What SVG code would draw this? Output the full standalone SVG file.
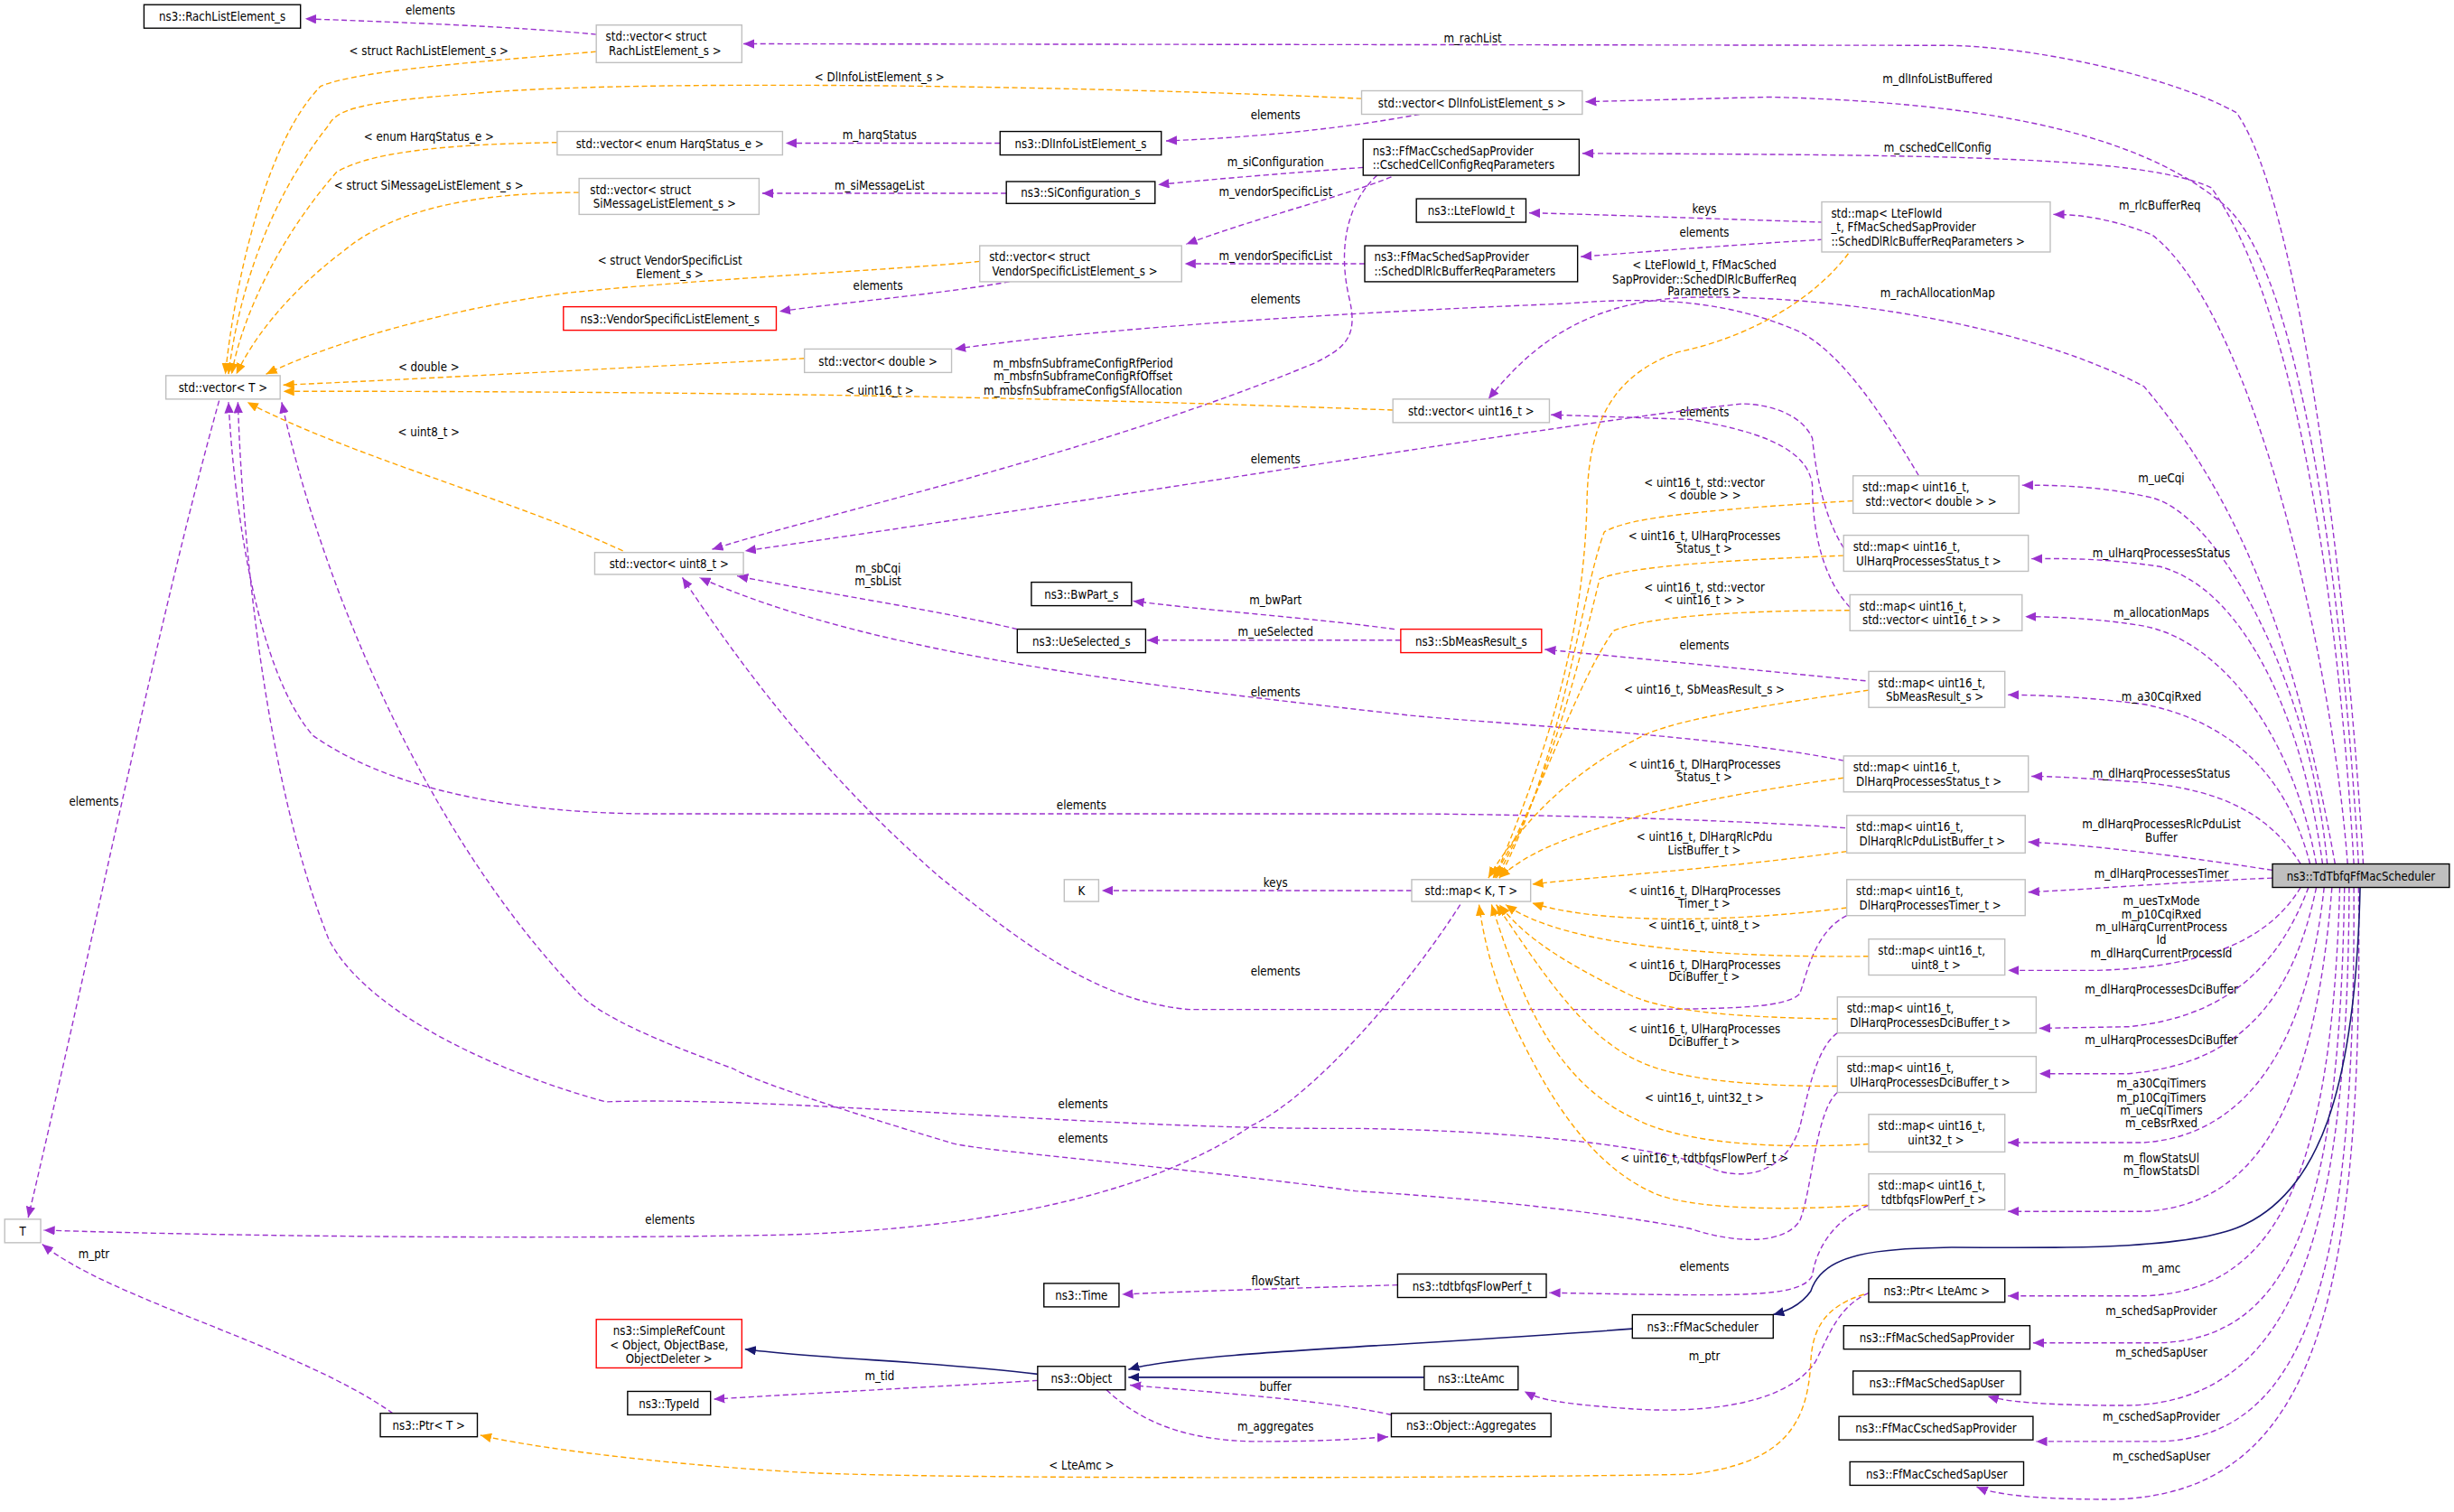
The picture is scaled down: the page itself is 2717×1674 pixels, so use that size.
<svg xmlns="http://www.w3.org/2000/svg" width="2717" height="1674" viewBox="0 0 2717 1674">
<style>
text{font-family:"DejaVu Sans Condensed","DejaVu Sans",sans-serif;font-stretch:condensed;font-size:7.6px;fill:#000}
.m{text-anchor:middle}
rect{fill:#fff;stroke-width:0.8}
.g{stroke:#bfbfbf}
.b{stroke:#000}
.r{stroke:#ff0000}
.s{fill:#bfbfbf;stroke:#000}
path{fill:none}
.p{stroke:#9a32cd;stroke-width:0.8;stroke-dasharray:3.5,2;marker-end:url(#ap)}
.o{stroke:#ffa500;stroke-width:0.8;stroke-dasharray:3.5,2;marker-end:url(#ao)}
.i{stroke:#191970;stroke-width:0.9;marker-end:url(#ai)}
</style>
<defs>
<marker id="ap" markerUnits="userSpaceOnUse" markerWidth="8" markerHeight="6" refX="7" refY="3" orient="auto"><path d="M0,0L7,3L0,6z" style="fill:#9a32cd;stroke:none"/></marker>
<marker id="ao" markerUnits="userSpaceOnUse" markerWidth="8" markerHeight="6" refX="7" refY="3" orient="auto"><path d="M0,0L7,3L0,6z" style="fill:#ffa500;stroke:none"/></marker>
<marker id="ai" markerUnits="userSpaceOnUse" markerWidth="8" markerHeight="6" refX="7" refY="3" orient="auto"><path d="M0,0L7,3L0,6z" style="fill:#191970;stroke:none"/></marker>
</defs>
<rect x="0" y="0" width="2717" height="1674" style="fill:#fff;stroke:none"/>
<g transform="scale(1.7328)">
<g id="edges">
<!-- from scheduler, upper -->
<path class="p" d="M1510,552 C1500,380 1470,130 1429,72 C1390,50 1300,29 1241,29 L475,28"/>
<text class="m" x="941" y="27">m_rachList</text>
<path class="p" d="M1507,552 C1497,380 1470,170 1420,130 C1360,80 1250,65 1130,62 L1013,65"/>
<text class="m" x="1238" y="53">m_dlInfoListBuffered</text>
<path class="p" d="M1504,552 C1495,400 1470,200 1413,120 C1370,100 1250,99 1011,98"/>
<text class="m" x="1238" y="97">m_cschedCellConfig</text>
<path class="p" d="M1500,552 C1490,420 1440,200 1375,150 C1350,140 1330,137 1312,137"/>
<text class="m" x="1380" y="134">m_rlcBufferReq</text>
<path class="p" d="M1492,552 C1470,430 1440,330 1370,247 C1300,210 1180,188 1080,190 C1010,192 975,225 951,255"/>
<text class="m" x="1238" y="190">m_rachAllocationMap</text>
<path class="p" d="M1487,552 C1477,440 1420,330 1375,318 C1340,310 1310,310 1292,310"/>
<text class="m" x="1381" y="308">m_ueCqi</text>
<path class="p" d="M1484,552 C1470,450 1430,375 1380,362 C1340,356 1315,357 1298,357"/>
<text class="m" x="1381" y="356">m_ulHarqProcessesStatus</text>
<path class="p" d="M1480,552 C1465,470 1420,410 1370,400 C1340,395 1310,394 1294,394"/>
<text class="m" x="1381" y="394">m_allocationMaps</text>
<path class="p" d="M1476,552 C1460,490 1420,460 1370,450 C1330,445 1300,444 1283,444"/>
<text class="m" x="1381" y="448">m_a30CqiRxed</text>
<path class="p" d="M1470,552 C1450,520 1420,505 1370,500 C1330,497 1310,496 1298,496"/>
<text class="m" x="1381" y="497">m_dlHarqProcessesStatus</text>
<path class="p" d="M1452,556 C1400,548 1340,540 1296,538"/>
<text class="m" x="1381" y="529">m_dlHarqProcessesRlcPduList</text>
<text class="m" x="1381" y="538">Buffer</text>
<path class="p" d="M1452,561 C1400,563 1340,568 1296,570"/>
<text class="m" x="1381" y="561">m_dlHarqProcessesTimer</text>
<!-- from scheduler, lower -->
<path class="p" d="M1470,567 C1450,600 1410,618 1340,620 L1283,620"/>
<text class="m" x="1381" y="578">m_uesTxMode</text>
<text class="m" x="1381" y="587">m_p10CqiRxed</text>
<text class="m" x="1381" y="595">m_ulHarqCurrentProcess</text>
<text class="m" x="1381" y="603">Id</text>
<text class="m" x="1381" y="612">m_dlHarqCurrentProcessId</text>
<path class="p" d="M1475,567 C1455,620 1420,650 1360,656 L1303,657"/>
<text class="m" x="1381" y="635">m_dlHarqProcessesDciBuffer</text>
<path class="p" d="M1480,567 C1465,640 1430,680 1360,686 L1303,686"/>
<text class="m" x="1381" y="667">m_ulHarqProcessesDciBuffer</text>
<path class="p" d="M1485,567 C1475,660 1440,725 1370,730 L1283,730"/>
<text class="m" x="1381" y="695">m_a30CqiTimers</text>
<text class="m" x="1381" y="704">m_p10CqiTimers</text>
<text class="m" x="1381" y="712">m_ueCqiTimers</text>
<text class="m" x="1381" y="720">m_ceBsrRxed</text>
<path class="p" d="M1490,567 C1480,690 1450,770 1370,774 L1283,774"/>
<text class="m" x="1381" y="743">m_flowStatsUl</text>
<text class="m" x="1381" y="751">m_flowStatsDl</text>
<path class="p" d="M1495,567 C1490,740 1460,825 1370,828 L1283,828"/>
<text class="m" x="1381" y="813">m_amc</text>
<path class="p" d="M1498,567 C1495,760 1470,855 1380,858 L1299,858"/>
<text class="m" x="1381" y="840">m_schedSapProvider</text>
<path class="p" d="M1501,567 C1500,780 1470,895 1360,898 C1300,898 1280,895 1270,892"/>
<text class="m" x="1381" y="867">m_schedSapUser</text>
<path class="p" d="M1504,567 C1505,800 1480,918 1380,921 L1301,921"/>
<text class="m" x="1381" y="908">m_cschedSapProvider</text>
<path class="p" d="M1507,567 C1510,830 1480,955 1350,958 C1300,958 1275,955 1263,950"/>
<text class="m" x="1381" y="933">m_cschedSapUser</text>
<!-- inheritance -->
<path class="i" d="M1508,567 C1505,700 1480,760 1435,782 C1400,800 1300,797 1247,797 C1200,798 1165,800 1157,825 C1150,835 1140,838 1133,840"/>
<path class="i" d="M1043,849 C900,860 760,864 721,875"/>
<path class="i" d="M910,880 L721,880"/>
<path class="i" d="M663,878 C600,870 520,868 476,862"/>
<!-- other members -->
<path class="p" d="M381,22 C330,17 250,14 195,12"/>
<text class="m" x="275" y="9">elements</text>
<path class="p" d="M907,73 C860,82 800,88 745,90"/>
<text class="m" x="815" y="76">elements</text>
<path class="p" d="M639,91.5 L502,91.5"/>
<text class="m" x="562" y="89">m_harqStatus</text>
<path class="p" d="M871,107 C830,110 780,114 740,118"/>
<text class="m" x="815" y="106">m_siConfiguration</text>
<path class="p" d="M643,123.5 L487,123.5"/>
<text class="m" x="562" y="121">m_siMessageList</text>
<path class="p" d="M889,113 C860,125 800,140 758,156"/>
<text class="m" x="815" y="125">m_vendorSpecificList</text>
<path class="p" d="M872,168.5 L757,168.5"/>
<text class="m" x="815" y="166">m_vendorSpecificList</text>
<path class="p" d="M645,180 C600,188 540,193 498,199"/>
<text class="m" x="561" y="185">elements</text>
<path class="p" d="M880,112 C860,130 855,160 862,190 C868,215 860,222 840,232 C700,290 520,330 455,351"/>
<text class="m" x="692" y="235">m_mbsfnSubframeConfigRfPeriod</text>
<text class="m" x="692" y="243">m_mbsfnSubframeConfigRfOffset</text>
<text class="m" x="692" y="252">m_mbsfnSubframeConfigSfAllocation</text>
<path class="p" d="M1165,142 C1100,140 1020,137 977,136"/>
<text class="m" x="1089" y="136">keys</text>
<path class="p" d="M1165,153 C1100,157 1050,161 1010,164"/>
<text class="m" x="1089" y="151">elements</text>
<path class="p" d="M1226,304 C1200,260 1175,225 1150,212 C1100,190 1050,190 1000,194 C850,200 700,210 610,223"/>
<text class="m" x="815" y="194">elements</text>
<path class="p" d="M1182,388 C1165,370 1158,340 1158,310 C1155,285 1120,275 1080,268 L991,265"/>
<text class="m" x="1089" y="266">elements</text>
<path class="p" d="M1178,350 C1165,330 1160,300 1158,280 C1150,262 1125,258 1113,258 C1000,270 700,320 476,352"/>
<text class="m" x="815" y="296">elements</text>
<path class="p" d="M1178,486 C1100,470 950,462 900,457 C750,440 560,420 447,369"/>
<text class="m" x="815" y="445">elements</text>
<path class="p" d="M895,409 L733,409"/>
<text class="m" x="815" y="406">m_ueSelected</text>
<path class="p" d="M891,402 C840,395 770,390 724,384"/>
<text class="m" x="815" y="386">m_bwPart</text>
<path class="p" d="M650,402 C600,390 520,378 471,368"/>
<text class="m" x="561" y="366">m_sbCqi</text>
<text class="m" x="561" y="374">m_sbList</text>
<path class="p" d="M1192,435 C1120,428 1040,420 987,415"/>
<text class="m" x="1089" y="415">elements</text>
<path class="p" d="M1179,529 C1100,523 950,520 900,520 L420,520 C330,520 250,505 200,470 C165,430 150,330 146,257"/>
<text class="m" x="691" y="517">elements</text>
<path class="p" d="M140,256 C100,400 60,600 18,778"/>
<text class="m" x="60" y="515">elements</text>
<path class="p" d="M902,569 L704,569"/>
<text class="m" x="815" y="567">keys</text>
<path class="p" d="M933,578 C900,630 840,700 800,719 C740,760 640,785 500,789 C350,792 150,790 28,786"/>
<text class="m" x="428" y="782">elements</text>
<path class="p" d="M1180,585 C1160,595 1155,620 1150,635 C1140,645 1100,645 1000,645 L760,645 C700,640 650,600 600,560 C520,490 470,420 436,369"/>
<text class="m" x="815" y="623">elements</text>
<path class="p" d="M1174,660 C1160,670 1155,700 1150,720 C1140,752 1110,755 1090,745 C1050,730 950,722 866,721 C700,722 500,700 387,704 C300,680 230,640 210,600 C170,500 155,350 152,257"/>
<text class="m" x="692" y="708">elements</text>
<path class="p" d="M1174,698 C1160,710 1158,760 1150,780 C1140,795 1110,795 1080,785 C1000,770 900,763 866,761 C750,745 620,735 607,730 C540,710 480,690 469,683 C420,665 385,650 370,635 C260,520 200,350 180,257"/>
<text class="m" x="692" y="730">elements</text>
<path class="p" d="M1194,770 C1170,780 1160,800 1158,815 C1150,830 1110,828 990,826"/>
<text class="m" x="1089" y="812">elements</text>
<path class="p" d="M893,821 C830,823 760,825 717,827"/>
<text class="m" x="815" y="821">flowStart</text>
<path class="p" d="M1194,826 C1175,835 1170,850 1160,870 C1140,900 1080,903 1040,900 C1000,897 985,895 974,889"/>
<text class="m" x="1089" y="869">m_ptr</text>
<path class="p" d="M663,882 C600,886 520,890 456,894"/>
<text class="m" x="562" y="882">m_tid</text>
<path class="p" d="M707,888 C730,910 760,920 800,921 C840,921 860,920 887,918"/>
<text class="m" x="815" y="914">m_aggregates</text>
<path class="p" d="M889,904 C850,895 780,890 722,885"/>
<text class="m" x="815" y="889">buffer</text>
<path class="p" d="M251,903 C190,860 70,830 27,795"/>
<text class="m" x="60" y="804">m_ptr</text>
<!-- templates -->
<path class="o" d="M381,33 C300,40 230,45 205,55 C170,90 150,180 144,239"/>
<text class="m" x="274" y="35">&lt; struct RachListElement_s &gt;</text>
<path class="o" d="M870,63 C700,55 400,50 300,60 C230,65 215,70 210,80 C170,130 152,190 146,239"/>
<text class="m" x="562" y="52">&lt; DlInfoListElement_s &gt;</text>
<path class="o" d="M356,91 C300,92 240,95 215,110 C180,150 155,200 148,239"/>
<text class="m" x="274" y="90">&lt; enum HarqStatus_e &gt;</text>
<path class="o" d="M370,123 C300,123 250,135 220,160 C180,190 160,220 151,239"/>
<text class="m" x="274" y="121">&lt; struct SiMessageListElement_s &gt;</text>
<path class="o" d="M626,167 C580,172 450,178 364,187 C300,195 220,215 170,239"/>
<text class="m" x="428" y="169">&lt; struct VendorSpecificList</text>
<text class="m" x="428" y="178">Element_s &gt;</text>
<path class="o" d="M514,229 C400,235 250,243 181,246"/>
<text class="m" x="274" y="237">&lt; double &gt;</text>
<path class="o" d="M890,262 C700,255 500,250 181,250"/>
<text class="m" x="562" y="252">&lt; uint16_t &gt;</text>
<path class="o" d="M398,352 C330,320 220,290 158,257"/>
<text class="m" x="274" y="279">&lt; uint8_t &gt;</text>
<path class="o" d="M1181,162 C1160,190 1120,215 1072,225 C1030,240 1015,270 1014,320 C1012,420 980,500 955,561"/>
<text class="m" x="1089" y="172">&lt; LteFlowId_t, FfMacSched</text>
<text class="m" x="1089" y="181">SapProvider::SchedDlRlcBufferReq</text>
<text class="m" x="1089" y="189">Parameters &gt;</text>
<path class="o" d="M1184,320 C1100,325 1040,330 1025,340 C1010,380 1000,480 958,561"/>
<text class="m" x="1089" y="311">&lt; uint16_t, std::vector</text>
<text class="m" x="1089" y="319">&lt; double &gt; &gt;</text>
<path class="o" d="M1178,355 C1100,358 1040,362 1022,370 C1010,420 990,500 956,561"/>
<text class="m" x="1089" y="345">&lt; uint16_t, UlHarqProcesses</text>
<text class="m" x="1089" y="353">Status_t &gt;</text>
<path class="o" d="M1182,390 C1100,390 1050,395 1031,403 C1005,440 985,510 954,561"/>
<text class="m" x="1089" y="378">&lt; uint16_t, std::vector</text>
<text class="m" x="1089" y="386">&lt; uint16_t &gt; &gt;</text>
<path class="o" d="M1194,441 C1130,450 1070,460 1050,470 C1010,490 975,520 951,561"/>
<text class="m" x="1089" y="443">&lt; uint16_t, SbMeasResult_s &gt;</text>
<path class="o" d="M1178,497 C1120,505 1070,515 1045,522 C1000,535 975,545 958,561"/>
<text class="m" x="1089" y="491">&lt; uint16_t, DlHarqProcesses</text>
<text class="m" x="1089" y="499">Status_t &gt;</text>
<path class="o" d="M1180,544 C1100,555 1020,560 979,565"/>
<text class="m" x="1089" y="537">&lt; uint16_t, DlHarqRlcPdu</text>
<text class="m" x="1089" y="546">ListBuffer_t &gt;</text>
<path class="o" d="M1180,580 C1100,590 1020,590 979,577"/>
<text class="m" x="1089" y="572">&lt; uint16_t, DlHarqProcesses</text>
<text class="m" x="1089" y="580">Timer_t &gt;</text>
<path class="o" d="M1194,611 C1100,612 1000,605 962,578"/>
<text class="m" x="1089" y="594">&lt; uint16_t, uint8_t &gt;</text>
<path class="o" d="M1174,651 C1100,650 1060,645 1040,635 C1000,615 975,600 958,578"/>
<text class="m" x="1089" y="619">&lt; uint16_t, DlHarqProcesses</text>
<text class="m" x="1089" y="627">DciBuffer_t &gt;</text>
<path class="o" d="M1174,694 C1120,694 1070,690 1045,677 C1010,660 985,620 956,578"/>
<text class="m" x="1089" y="660">&lt; uint16_t, UlHarqProcesses</text>
<text class="m" x="1089" y="668">DciBuffer_t &gt;</text>
<path class="o" d="M1194,731 C1120,735 1070,728 1045,715 C990,690 970,630 953,578"/>
<text class="m" x="1089" y="704">&lt; uint16_t, uint32_t &gt;</text>
<path class="o" d="M1193,770 C1120,775 1070,770 1054,761 C1010,740 985,690 970,660 C955,630 948,600 945,578"/>
<text class="m" x="1089" y="743">&lt; uint16_t, tdtbfqsFlowPerf_t &gt;</text>
<path class="o" d="M1191,827 C1165,835 1158,850 1157,870 C1155,910 1140,935 1080,942 C900,945 560,945 500,940 C420,935 340,925 307,917"/>
<text class="m" x="691" y="939">&lt; LteAmc &gt;</text>
</g>
<g id="rach"><rect class="b" x="92" y="3" width="100" height="15"/><text class="m" x="142" y="13.5">ns3::RachListElement_s</text></g>
<g id="vecRach"><rect class="g" x="381" y="16" width="93" height="24"/><text x="387" y="26">std::vector&lt; struct</text><text x="389" y="35">RachListElement_s &gt;</text></g>
<g id="vecDlInfo"><rect class="g" x="870" y="58" width="141" height="15"/><text class="m" x="940.5" y="68.5">std::vector&lt; DlInfoListElement_s &gt;</text></g>
<g id="vecHarq"><rect class="g" x="356" y="84" width="144" height="15"/><text class="m" x="428" y="94.5">std::vector&lt; enum HarqStatus_e &gt;</text></g>
<g id="dlinfo"><rect class="b" x="639" y="84" width="103" height="15"/><text class="m" x="690.5" y="94.5">ns3::DlInfoListElement_s</text></g>
<g id="vecSi"><rect class="g" x="370" y="114" width="115" height="23"/><text x="377" y="124">std::vector&lt; struct</text><text x="379" y="133">SiMessageListElement_s &gt;</text></g>
<g id="siConf"><rect class="b" x="643" y="116" width="95" height="14"/><text class="m" x="690.5" y="126">ns3::SiConfiguration_s</text></g>
<g id="cschedCell"><rect class="b" x="871" y="89" width="138" height="23"/><text x="877" y="99">ns3::FfMacCschedSapProvider</text><text x="877" y="108">::CschedCellConfigReqParameters</text></g>
<g id="lteFlow"><rect class="b" x="905" y="127" width="70" height="15"/><text class="m" x="940" y="137.5">ns3::LteFlowId_t</text></g>
<g id="vecVendor"><rect class="g" x="626" y="157" width="129" height="23"/><text x="632" y="167">std::vector&lt; struct</text><text x="634" y="176">VendorSpecificListElement_s &gt;</text></g>
<g id="schedDlRlc"><rect class="b" x="872" y="157" width="136" height="23"/><text x="878" y="167">ns3::FfMacSchedSapProvider</text><text x="878" y="176">::SchedDlRlcBufferReqParameters</text></g>
<g id="vendorEl"><rect class="r" x="360" y="196" width="136" height="15"/><text class="m" x="428" y="206.5">ns3::VendorSpecificListElement_s</text></g>
<g id="vecDouble"><rect class="g" x="514" y="223" width="94" height="15"/><text class="m" x="561" y="233.5">std::vector&lt; double &gt;</text></g>
<g id="vecT"><rect class="g" x="106" y="240" width="73" height="15"/><text class="m" x="142.5" y="250.5">std::vector&lt; T &gt;</text></g>
<g id="vec16"><rect class="g" x="890" y="255" width="100" height="15"/><text class="m" x="940" y="265.5">std::vector&lt; uint16_t &gt;</text></g>
<g id="mapLteFlow"><rect class="g" x="1164" y="129" width="146" height="32"/><text x="1170" y="139">std::map&lt; LteFlowId</text><text x="1170" y="148">_t, FfMacSchedSapProvider</text><text x="1170" y="157">::SchedDlRlcBufferReqParameters &gt;</text></g>
<g id="mapVecDouble"><rect class="g" x="1184" y="304" width="106" height="24"/><text x="1190" y="314">std::map&lt; uint16_t,</text><text x="1192" y="323">std::vector&lt; double &gt; &gt;</text></g>
<g id="mapUlHarqStatus"><rect class="g" x="1178" y="342" width="118" height="23"/><text x="1184" y="352">std::map&lt; uint16_t,</text><text x="1186" y="361">UlHarqProcessesStatus_t &gt;</text></g>
<g id="mapVecU16"><rect class="g" x="1182" y="380" width="110" height="23"/><text x="1188" y="390">std::map&lt; uint16_t,</text><text x="1190" y="399">std::vector&lt; uint16_t &gt; &gt;</text></g>
<g id="vecU8"><rect class="g" x="380" y="353" width="95" height="14"/><text class="m" x="427.5" y="363">std::vector&lt; uint8_t &gt;</text></g>
<g id="bwPart"><rect class="b" x="659" y="372" width="64" height="15"/><text class="m" x="691" y="382.5">ns3::BwPart_s</text></g>
<g id="ueSel"><rect class="b" x="650" y="402" width="82" height="15"/><text class="m" x="691" y="412.5">ns3::UeSelected_s</text></g>
<g id="sbMeas"><rect class="r" x="895" y="402" width="90" height="15"/><text class="m" x="940" y="412.5">ns3::SbMeasResult_s</text></g>
<g id="mapSbMeas"><rect class="g" x="1194" y="429" width="87" height="23"/><text x="1200" y="439">std::map&lt; uint16_t,</text><text x="1205" y="448">SbMeasResult_s &gt;</text></g>
<g id="mapDlHarqStatus"><rect class="g" x="1178" y="483" width="118" height="23"/><text x="1184" y="493">std::map&lt; uint16_t,</text><text x="1186" y="502">DlHarqProcessesStatus_t &gt;</text></g>
<g id="mapDlRlcPdu"><rect class="g" x="1180" y="521" width="114" height="24"/><text x="1186" y="531">std::map&lt; uint16_t,</text><text x="1188" y="540">DlHarqRlcPduListBuffer_t &gt;</text></g>
<g id="K"><rect class="g" x="680" y="562" width="22" height="14"/><text class="m" x="691" y="572">K</text></g>
<g id="mapKT"><rect class="g" x="902" y="562" width="76" height="14"/><text class="m" x="940" y="572">std::map&lt; K, T &gt;</text></g>
<g id="sched"><rect class="s" x="1452" y="552" width="113" height="15"/><text class="m" x="1508.5" y="562.5">ns3::TdTbfqFfMacScheduler</text></g>
<g id="mapDlHarqTimer"><rect class="g" x="1180" y="562" width="114" height="23"/><text x="1186" y="572">std::map&lt; uint16_t,</text><text x="1188" y="581">DlHarqProcessesTimer_t &gt;</text></g>
<g id="mapU8"><rect class="g" x="1194" y="600" width="87" height="23"/><text x="1200" y="610">std::map&lt; uint16_t,</text><text class="m" x="1237" y="619">uint8_t &gt;</text></g>
<g id="mapDlDci"><rect class="g" x="1174" y="637" width="127" height="23"/><text x="1180" y="647">std::map&lt; uint16_t,</text><text x="1182" y="656">DlHarqProcessesDciBuffer_t &gt;</text></g>
<g id="mapUlDci"><rect class="g" x="1174" y="675" width="127" height="23"/><text x="1180" y="685">std::map&lt; uint16_t,</text><text x="1182" y="694">UlHarqProcessesDciBuffer_t &gt;</text></g>
<g id="mapU32"><rect class="g" x="1194" y="712" width="87" height="24"/><text x="1200" y="722">std::map&lt; uint16_t,</text><text class="m" x="1237" y="731">uint32_t &gt;</text></g>
<g id="mapTdt"><rect class="g" x="1194" y="750" width="87" height="23"/><text x="1200" y="760">std::map&lt; uint16_t,</text><text x="1202" y="769">tdtbfqsFlowPerf_t &gt;</text></g>
<g id="T"><rect class="g" x="3" y="779" width="23" height="15"/><text class="m" x="14.5" y="789.5">T</text></g>
<g id="tdtPerf"><rect class="b" x="893" y="814" width="95" height="15"/><text class="m" x="940.5" y="824.5">ns3::tdtbfqsFlowPerf_t</text></g>
<g id="time"><rect class="b" x="667" y="820" width="48" height="15"/><text class="m" x="691" y="830.5">ns3::Time</text></g>
<g id="ptrLteAmc"><rect class="b" x="1194" y="817" width="87" height="15"/><text class="m" x="1237.5" y="827.5">ns3::Ptr&lt; LteAmc &gt;</text></g>
<g id="ffMacSched"><rect class="b" x="1043" y="840" width="90" height="15"/><text class="m" x="1088" y="850.5">ns3::FfMacScheduler</text></g>
<g id="schedProv"><rect class="b" x="1178" y="847" width="119" height="15"/><text class="m" x="1237.5" y="857.5">ns3::FfMacSchedSapProvider</text></g>
<g id="simpleRef"><rect class="r" x="381" y="843" width="93" height="31"/><text class="m" x="427.5" y="853">ns3::SimpleRefCount</text><text class="m" x="427.5" y="862">&lt; Object, ObjectBase,</text><text class="m" x="427.5" y="871">ObjectDeleter &gt;</text></g>
<g id="lteAmc"><rect class="b" x="910" y="873" width="60" height="15"/><text class="m" x="940" y="883.5">ns3::LteAmc</text></g>
<g id="object"><rect class="b" x="663" y="873" width="56" height="15"/><text class="m" x="691" y="883.5">ns3::Object</text></g>
<g id="schedUser"><rect class="b" x="1184" y="876" width="107" height="15"/><text class="m" x="1237.5" y="886.5">ns3::FfMacSchedSapUser</text></g>
<g id="typeId"><rect class="b" x="401" y="889" width="53" height="15"/><text class="m" x="427.5" y="899.5">ns3::TypeId</text></g>
<g id="aggregates"><rect class="b" x="889" y="903" width="102" height="15"/><text class="m" x="940" y="913.5">ns3::Object::Aggregates</text></g>
<g id="ptrT"><rect class="b" x="243" y="903" width="62" height="15"/><text class="m" x="274" y="913.5">ns3::Ptr&lt; T &gt;</text></g>
<g id="cschedProv"><rect class="b" x="1175" y="905" width="124" height="15"/><text class="m" x="1237" y="915.5">ns3::FfMacCschedSapProvider</text></g>
<g id="cschedUser"><rect class="b" x="1182" y="934" width="111" height="15"/><text class="m" x="1237.5" y="944.5">ns3::FfMacCschedSapUser</text></g>
</g>
</svg>
